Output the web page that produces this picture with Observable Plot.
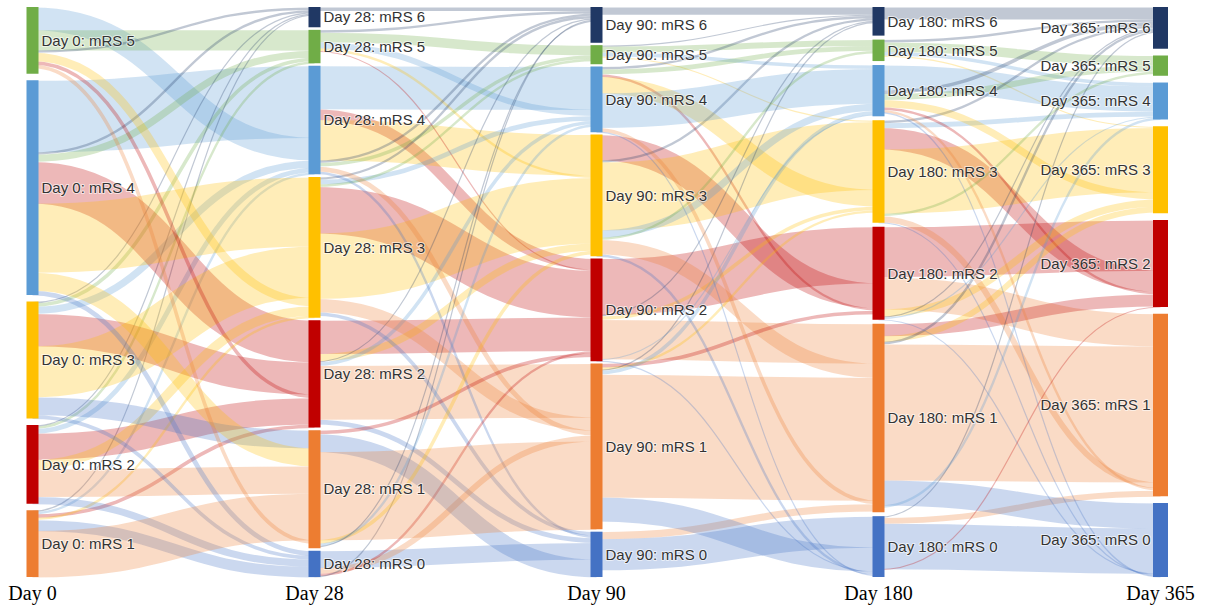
<!DOCTYPE html>
<html>
<head>
<meta charset="utf-8">
<script src="https://cdn.jsdelivr.net/npm/d3@7"></script>
<script src="https://cdn.jsdelivr.net/npm/@observablehq/plot@0.6"></script>
<style>
  html, body { margin: 0; padding: 0; background: #fff; }
  #chart svg { display: block; }
</style>
</head>
<body>
<div id="chart"></div>
<script>
// ---- data -------------------------------------------------------------
const days = ["Day 0", "Day 28", "Day 90", "Day 180", "Day 365"];
const levels = [6, 5, 4, 3, 2, 1, 0];
const levelColors = ["#203864", "#70AD47", "#5B9BD5", "#FFC000", "#C00000", "#ED7D31", "#4472C4"];

// patients in each mRS state (order: mRS 6 … mRS 0)
const patientsDay0   = [0, 56, 180, 98, 66, 56, 0];
const patientsDay28  = [17, 27, 91, 115, 90, 99, 21];
const patientsDay90  = [30, 16, 55, 102, 85, 133, 37];
const patientsDay180 = [24, 18, 43, 85, 76, 158, 51];
const patientsDay365 = [35, 17, 30, 73, 72, 151, 62];
const patientsByDay = [patientsDay0, patientsDay28, patientsDay90, patientsDay180, patientsDay365];

// transitions: [mRS from, mRS to, patients, (optional) colour category]
const flowsDay0to28 = [
  [4,4,60],[5,4,19],[5,5,17],[5,6,2],[4,6,2],[4,5,6],[3,6,1],[3,5,3],[3,4,6],
  [2,6,1],[2,5,2],[2,4,4],[1,6,1],[1,4,2],[4,2,35],[4,3,58],[3,2,27],[3,3,43],
  [5,3,7],[5,2,3],[2,2,22],[2,3,8],[1,2,3],[1,3,2],[3,1,15,0],[4,1,15,3],[2,1,23],
  [4,0,4],[3,0,3],[2,0,6],[1,0,9],[1,1,39],[5,1,3]
];
const flowsDay28to90 = [
  [6,6,3],[5,6,2],[5,5,8],[4,4,36],[5,4,5],[4,2,9],[4,3,34],[5,3,2],[5,2,1],
  [4,6,2],[4,5,3],[3,6,2],[3,4,4],[3,5,2],[3,2,39],[3,3,55],[2,2,28],[2,3,6],
  [2,6,1],[2,4,3],[2,1,45],[3,1,11],[4,1,4],[3,0,3],[4,0,2],[2,0,4],
  [0,0,14],[0,1,5],[0,2,2],[0,6,1],[1,2,3],[1,0,15],[1,1,74],[1,3,3],[1,4,2],[1,6,1]
];
const flowsDay90to180 = [
  [6,6,6],[5,6,1],[5,5,5],[5,4,3],[5,3,1],[4,6,2],[4,5,4],[2,2,47],[3,2,21],
  [4,2,2],[3,6,2],[3,3,57],[4,3,14],[4,4,29],[3,4,6],[3,5,2],[2,6,1],[2,3,3],
  [2,1,33],[3,1,12],[1,2,3],[1,3,2],[1,6,1],[1,4,3],[1,1,103],[4,1,3],[0,1,6],
  [2,4,1],[0,0,26],[1,0,20],[2,0,1],[3,0,2],[4,0,1]
];
const flowsDay180to365 = [
  [6,6,10],[5,6,2],[5,5,8],[5,4,3],[5,3,1],[4,4,21],[4,6,3],[4,5,5],[3,6,2],
  [3,4,4],[2,2,42],[3,2,18],[3,3,54],[4,3,6],[3,5,2],[4,2,2],[2,1,27],[2,3,6],
  [2,6,1],[2,4,1],[1,2,10],[1,3,5],[1,6,2],[1,1,114],[3,1,5],[4,1,2],[0,6,1],
  [0,1,5],[1,0,21],[0,0,38],[2,0,1],[3,0,1],[4,0,1],[1,4,2],[0,2,1]
];
const stages = [flowsDay0to28, flowsDay28to90, flowsDay90to180, flowsDay180to365];

// ---- sankey layout (in patient units) --------------------------------
const nodes = [];
days.forEach((day, c) => {
  levels.forEach((level, li) => {
    const inSum = c > 0 ? d3.sum(stages[c - 1].filter(f => f[1] === level), f => f[2]) : 0;
    const outSum = c < stages.length ? d3.sum(stages[c].filter(f => f[0] === level), f => f[2]) : 0;
    const value = Math.max(patientsByDay[c][li], inSum, outSum);
    if (value > 0) nodes.push({col: c, day, level, value});
  });
});
const minGap = 2;
const columns = days.map((d, c) => nodes.filter(n => n.col === c));
const total = d3.max(columns, col => d3.sum(col, n => n.value) + (col.length - 1) * minGap);
columns.forEach(col => {
  const gap = (total - d3.sum(col, n => n.value)) / (col.length - 1);
  let y = 0;
  col.forEach(n => { n.y0 = y; n.y1 = y + n.value; n.outY = y; n.inY = y; y = n.y1 + gap; });
});
const nodeAt = (c, level) => nodes.find(n => n.col === c && n.level === level);
const links = [];
stages.forEach((flows, s) => {
  flows.forEach(([from, to, value, cat]) => {
    const a = nodeAt(s, from), b = nodeAt(s + 1, to);
    links.push({
      x1: days[s], x2: days[s + 1],
      y1: a.outY + value / 2, y2: b.inY + value / 2,
      value, cat: cat === undefined ? to : cat
    });
    a.outY += value; b.inY += value;
  });
});

// ---- plot ---------------------------------------------------------------
const yRange = [7, 577];
const pxPerUnit = (yRange[1] - yRange[0]) / total;
const label = d => `${d.day}: mRS ${d.level}`;
const mid = d => (d.y0 + d.y1) / 2;

const chart = Plot.plot({
  width: 1212,
  height: 615,
  marginTop: 7,
  marginBottom: 38,
  marginLeft: 29,
  marginRight: 54,
  style: {fontFamily: "'Liberation Serif', 'Times New Roman', serif", fontSize: "20px", color: "#000", background: "#fff"},
  x: {type: "point", domain: days, range: [31, 1161], padding: 0},
  y: {domain: [0, total], range: yRange, axis: null},
  color: {type: "ordinal", domain: levels, range: levelColors},
  marks: [
    Plot.link(links, {
      x1: "x1", x2: "x2", y1: "y1", y2: "y2",
      curve: "bump-x",
      stroke: "cat",
      strokeOpacity: 0.28,
      strokeWidth: d => d.value * pxPerUnit
    }),
    Plot.ruleX(nodes, {
      x: "day", y1: "y0", y2: "y1",
      stroke: "level",
      strokeWidth: d => d.col === days.length - 1 ? 15 : 12
    }),
    Plot.text(nodes.filter(n => n.col < days.length - 1), {
      x: "day", y: mid, text: label,
      dx: 9, textAnchor: "start",
      fontFamily: "'Liberation Sans', Arial, sans-serif", fontSize: 15,
      fill: "#333", stroke: "white", strokeWidth: 2, strokeOpacity: 0.6
    }),
    Plot.text(nodes.filter(n => n.col === days.length - 1), {
      x: "day", y: mid, text: label,
      dx: -10, textAnchor: "end",
      fontFamily: "'Liberation Sans', Arial, sans-serif", fontSize: 15,
      fill: "#333", stroke: "white", strokeWidth: 2, strokeOpacity: 0.6
    }),
    Plot.axisX({anchor: "bottom", tickSize: 0, tickPadding: 8, label: null, fontSize: 20, fill: "#000"})
  ]
});
document.getElementById("chart").appendChild(chart);
</script>
</body>
</html>
